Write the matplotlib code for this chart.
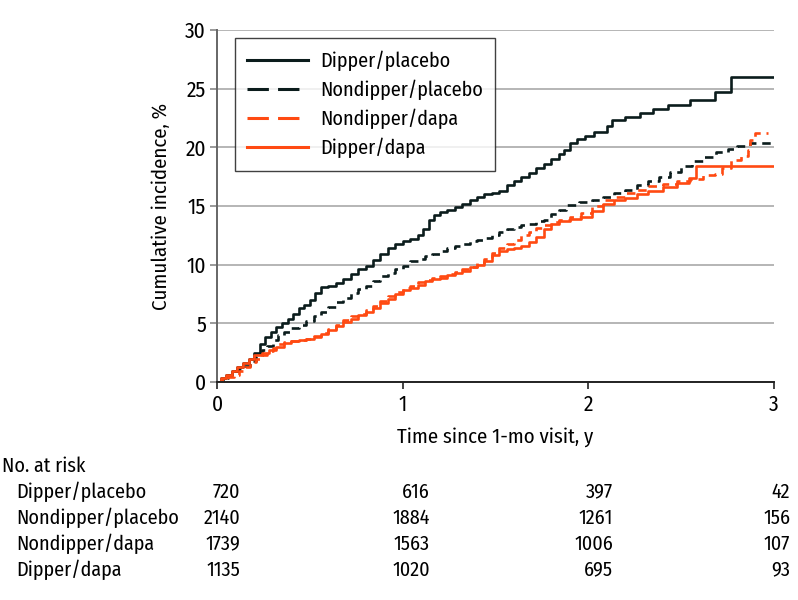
import matplotlib
matplotlib.use("Agg")
import matplotlib.pyplot as plt
from matplotlib.lines import Line2D

plt.rcParams['font.family'] = ['Fira Sans Condensed', 'DejaVu Sans']

# step curve knots: (time in years, cumulative incidence %)
dipper_placebo = [
    (0, 0), (.02, .3), (.05, .6), (.08, .9), (.11, 1.3), (.14, 1.6), (.17, 2.0), (.20, 2.5),
    (.23, 3.2), (.26, 3.8), (.29, 4.3), (.32, 4.7), (.35, 5.0), (.38, 5.4), (.41, 5.8),
    (.44, 6.3), (.47, 6.6), (.50, 7.0), (.53, 7.6), (.56, 8.1), (.60, 8.2), (.64, 8.4),
    (.68, 8.8), (.72, 9.2), (.76, 9.6), (.80, 9.9), (.84, 10.4), (.88, 10.9), (.92, 11.4),
    (.96, 11.8), (1.00, 12.0), (1.04, 12.2), (1.08, 12.5), (1.11, 13.0), (1.14, 13.8),
    (1.17, 14.2), (1.20, 14.5), (1.24, 14.7), (1.28, 14.9), (1.32, 15.2), (1.36, 15.5),
    (1.40, 15.8), (1.44, 16.0), (1.48, 16.1), (1.52, 16.3), (1.56, 16.8), (1.60, 17.1),
    (1.64, 17.5), (1.68, 17.8), (1.72, 18.2), (1.76, 18.6), (1.80, 19.0), (1.84, 19.4),
    (1.87, 19.8), (1.90, 20.4), (1.94, 20.7), (1.98, 21.0), (2.03, 21.3), (2.10, 21.8),
    (2.13, 22.3), (2.20, 22.6), (2.28, 22.9), (2.35, 23.3), (2.43, 23.6), (2.55, 24.0),
    (2.68, 24.7), (2.77, 26.0), (3.0, 26.0),
]
nondipper_placebo = [
    (0, 0), (.03, .3), (.06, .6), (.09, .9), (.12, 1.1), (.15, 1.4), (.18, 1.8), (.21, 2.2),
    (.24, 2.7), (.27, 3.1), (.30, 3.6), (.33, 4.0), (.36, 4.3), (.40, 4.6), (.44, 4.9),
    (.48, 5.2), (.52, 5.6), (.56, 6.0), (.60, 6.4), (.64, 6.8), (.68, 7.2), (.72, 7.6),
    (.76, 7.9), (.80, 8.2), (.84, 8.6), (.88, 9.0), (.92, 9.3), (.96, 9.6), (1.00, 9.9),
    (1.04, 10.3), (1.08, 10.5), (1.12, 10.7), (1.16, 10.9), (1.20, 11.2), (1.24, 11.4),
    (1.28, 11.6), (1.32, 11.8), (1.36, 12.0), (1.40, 12.1), (1.44, 12.3), (1.48, 12.5),
    (1.52, 12.8), (1.56, 13.0), (1.60, 13.2), (1.64, 13.4), (1.68, 13.5), (1.72, 13.7),
    (1.76, 13.8), (1.80, 14.3), (1.84, 14.7), (1.88, 15.1), (1.95, 15.3), (2.02, 15.5),
    (2.08, 15.8), (2.14, 16.1), (2.20, 16.4), (2.26, 16.8), (2.32, 17.1), (2.38, 17.5),
    (2.44, 17.9), (2.50, 18.4), (2.56, 18.8), (2.62, 19.2), (2.69, 19.6), (2.75, 19.9),
    (2.80, 20.1), (2.87, 20.4), (3.0, 20.4),
]
nondipper_dapa = [
    (0, 0), (.03, .2), (.06, .4), (.09, .6), (.12, .9), (.15, 1.3), (.18, 1.7), (.21, 2.0),
    (.24, 2.3), (.27, 2.6), (.30, 2.9), (.33, 3.2), (.36, 3.4), (.40, 3.5), (.44, 3.6),
    (.48, 3.7), (.52, 3.9), (.56, 4.2), (.60, 4.5), (.64, 4.9), (.68, 5.3), (.72, 5.6),
    (.76, 5.8), (.80, 6.1), (.84, 6.5), (.88, 6.9), (.92, 7.3), (.96, 7.7), (1.00, 8.0),
    (1.04, 8.2), (1.08, 8.5), (1.12, 8.7), (1.16, 8.9), (1.20, 9.0), (1.24, 9.2),
    (1.28, 9.4), (1.32, 9.6), (1.36, 9.8), (1.40, 10.1), (1.44, 10.5), (1.48, 11.0),
    (1.52, 11.4), (1.56, 11.8), (1.60, 12.1), (1.64, 12.5), (1.68, 12.8), (1.72, 13.1),
    (1.76, 13.4), (1.80, 13.6), (1.84, 13.8), (1.90, 14.1), (1.96, 14.4), (2.02, 15.0),
    (2.08, 15.5), (2.14, 15.8), (2.20, 16.1), (2.26, 16.4), (2.32, 16.7), (2.40, 16.9),
    (2.48, 17.1), (2.55, 17.3), (2.62, 17.6), (2.68, 17.7), (2.72, 18.2), (2.77, 18.9),
    (2.82, 19.3), (2.86, 19.8), (2.87, 20.6), (2.90, 21.2), (2.97, 21.2),
]
dipper_dapa = [
    (0, 0), (.02, .3), (.05, .6), (.08, .9), (.11, 1.3), (.14, 1.6), (.17, 2.0), (.20, 2.3),
    (.24, 2.5), (.28, 2.7), (.32, 3.0), (.36, 3.3), (.40, 3.5), (.44, 3.6), (.48, 3.7),
    (.52, 3.8), (.56, 4.1), (.60, 4.4), (.64, 4.8), (.68, 5.1), (.72, 5.4), (.76, 5.7),
    (.80, 6.0), (.84, 6.3), (.88, 6.7), (.92, 7.1), (.96, 7.5), (1.00, 7.8), (1.04, 8.0),
    (1.08, 8.3), (1.12, 8.6), (1.16, 8.8), (1.20, 8.9), (1.24, 9.1), (1.28, 9.3),
    (1.32, 9.5), (1.36, 9.8), (1.40, 10.0), (1.44, 10.3), (1.48, 10.8), (1.52, 11.2),
    (1.56, 11.3), (1.60, 11.4), (1.64, 11.6), (1.68, 11.9), (1.72, 12.4), (1.76, 13.0),
    (1.80, 13.5), (1.84, 13.7), (1.90, 13.9), (1.96, 14.1), (2.02, 14.6), (2.08, 15.2),
    (2.14, 15.5), (2.20, 15.7), (2.26, 16.0), (2.32, 16.3), (2.40, 16.6), (2.48, 17.0),
    (2.54, 17.4), (2.58, 18.4), (3.0, 18.4),
]

groups = ['Dipper/placebo', 'Nondipper/placebo', 'Nondipper/dapa', 'Dipper/dapa']
at_risk = {
    'Dipper/placebo': [720, 616, 397, 42],
    'Nondipper/placebo': [2140, 1884, 1261, 156],
    'Nondipper/dapa': [1739, 1563, 1006, 107],
    'Dipper/dapa': [1135, 1020, 695, 93],
}
x_ticks = [0, 1, 2, 3]
y_ticks = [0, 5, 10, 15, 20, 25, 30]

black = '#0b1c1c'
orange = '#ff4a12'
W, H = 798, 600
fs = 14.5

fig = plt.figure(figsize=(W / 100, H / 100), dpi=100)
ax = fig.add_axes([217 / W, 1 - 382 / H, (774 - 217) / W, (382 - 30) / H])

curves = [
    (dipper_placebo, black, None),
    (nondipper_placebo, black, (3.2, 2.2)),
    (nondipper_dapa, orange, (3.2, 2.2)),
    (dipper_dapa, orange, None),
]
for pts, col, dash in curves:
    t, v = zip(*pts)
    line, = ax.plot(t, v, drawstyle='steps-post', color=col, lw=1.9)
    if dash:
        line.set_dashes(dash)

ax.set_xlim(0, 3)
ax.set_ylim(0, 30)
ax.set_xticks(x_ticks)
ax.set_yticks(y_ticks)
ax.yaxis.grid(True, color='#b5b5b5', lw=1.4)
ax.set_axisbelow(True)
for s in ['top', 'right']:
    ax.spines[s].set_visible(False)
ax.spines['left'].set_color('#666666')
ax.spines['left'].set_linewidth(1.4)
ax.spines['bottom'].set_color('#222222')
ax.spines['bottom'].set_linewidth(1.4)
ax.tick_params(axis='x', direction='out', length=5, width=1.2, color='#222222',
               labelsize=15.5, pad=4)
ax.tick_params(axis='y', direction='out', length=5, width=1.2, color='#888888',
               labelsize=15.5, pad=3)
ax.set_xlabel('Time since 1-mo visit, y', fontsize=fs + 0.5, labelpad=8)
ax.set_ylabel('Cumulative incidence, %', fontsize=fs + 0.5, labelpad=10)

handles = [
    Line2D([], [], color=black, lw=2.2),
    Line2D([], [], color=black, lw=2.2, dashes=(7, 3)),
    Line2D([], [], color=orange, lw=2.2, dashes=(7, 3)),
    Line2D([], [], color=orange, lw=2.2),
]
leg = ax.legend(handles, groups, loc='upper left', bbox_to_anchor=(0.032, 0.977),
                fontsize=fs, frameon=True, fancybox=False, edgecolor='#111111',
                handlelength=3.0, handletextpad=0.6, labelspacing=0.42,
                borderpad=0.62, borderaxespad=0)
leg.get_frame().set_linewidth(1.0)

# number-at-risk table
fig.text(2 / W, 1 - 466 / H, 'No. at risk', fontsize=fs, va='center', ha='left')
col_right = [240, 430, 613, 790]
for i, g in enumerate(groups):
    y = 1 - (492 + 26 * i) / H
    fig.text(16 / W, y, g, fontsize=fs, va='center', ha='left')
    for xr, n in zip(col_right, at_risk[g]):
        fig.text(xr / W, y, str(n), fontsize=fs, va='center', ha='right')

fig.savefig('out.png', dpi=100)
